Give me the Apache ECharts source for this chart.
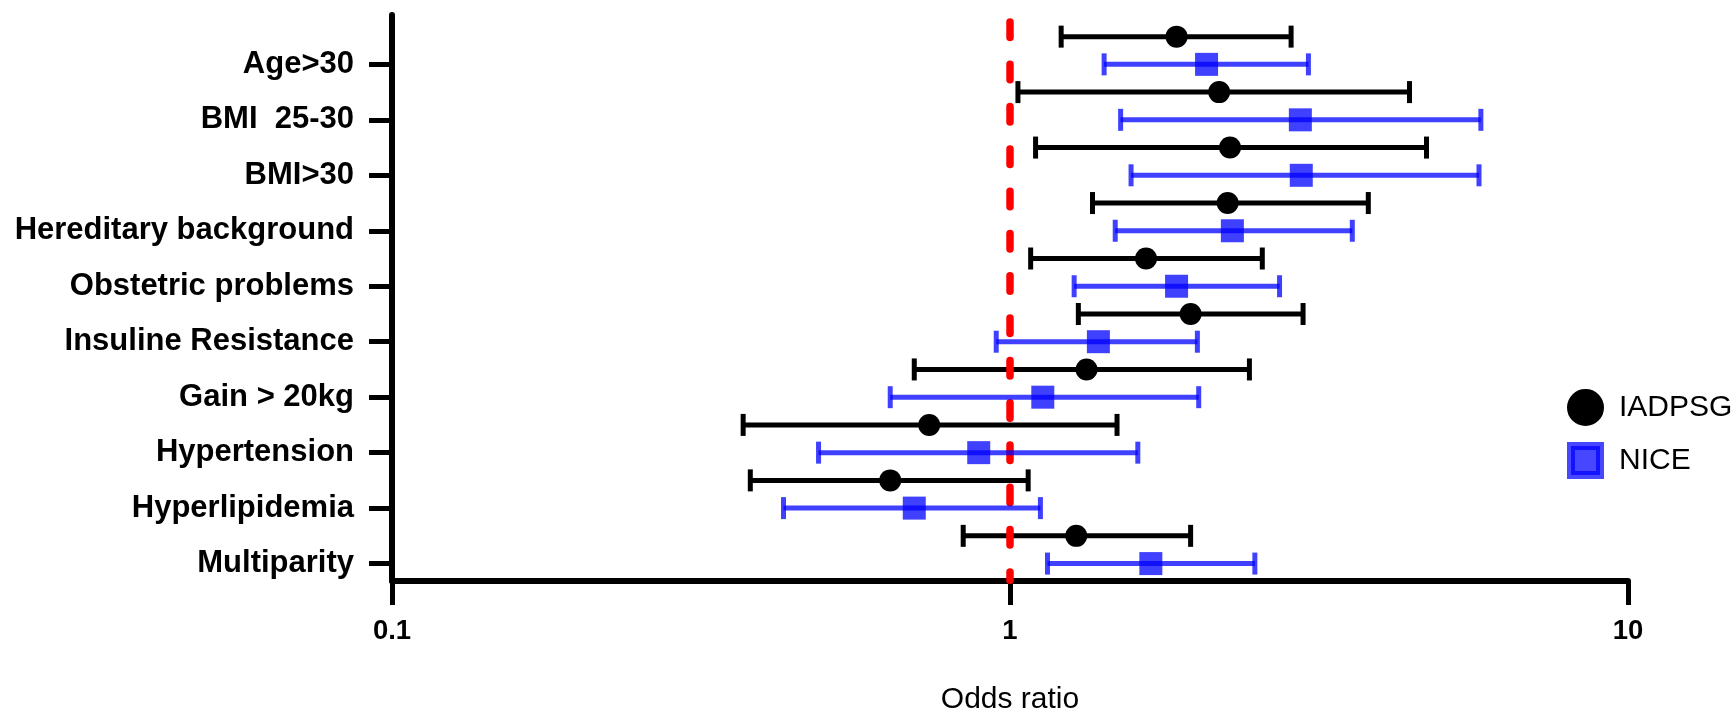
<!DOCTYPE html>
<html>
<head>
<meta charset="utf-8">
<script src="https://cdn.jsdelivr.net/npm/echarts@6/dist/echarts.min.js"></script>
<style>
  html, body { margin: 0; padding: 0; background: #fff; }
  #chart { width: 1734px; height: 714px; }
</style>
</head>
<body>
<div id="chart"></div>
<script>
// Categories, top to bottom
const categories = ['Age>30', 'BMI  25-30', 'BMI>30', 'Hereditary background', 'Obstetric problems',
  'Insuline Resistance', 'Gain > 20kg', 'Hypertension', 'Hyperlipidemia', 'Multiparity'];

// IADPSG odds ratios with 95% CI
const iadpsgOR   = [1.86, 2.18, 2.27, 2.25, 1.66, 1.96, 1.33, 0.74, 0.64, 1.28];
const iadpsgLow  = [1.21, 1.03, 1.10, 1.36, 1.08, 1.29, 0.70, 0.37, 0.38, 0.84];
const iadpsgHigh = [2.85, 4.43, 4.72, 3.80, 2.56, 2.98, 2.44, 1.49, 1.07, 1.96];

// NICE odds ratios with 95% CI
const niceOR   = [2.08, 2.95, 2.96, 2.29, 1.86, 1.39, 1.13, 0.89, 0.70, 1.69];
const niceLow  = [1.42, 1.51, 1.57, 1.48, 1.27, 0.95, 0.64, 0.49, 0.43, 1.15];
const niceHigh = [3.04, 5.78, 5.74, 3.58, 2.73, 2.01, 2.02, 1.61, 1.12, 2.49];

const xTickLabels = ['0.1', '1', '10'];
const referenceOR = 1;

const n = categories.length;
const rowPos = categories.map((c, i) => n - i);          // Age>30 = 10 ... Multiparity = 1
const FONT = "'Liberation Sans', Arial, Helvetica, sans-serif";
const BLUE = 'rgba(0,0,255,0.75)';

const iadpsgPts  = iadpsgOR.map((v, i) => [v, rowPos[i] + 0.5]);
const iadpsgBars = iadpsgOR.map((v, i) => [iadpsgLow[i], iadpsgHigh[i], rowPos[i] + 0.5]);
const nicePts    = niceOR.map((v, i) => [v, rowPos[i]]);
const niceBars   = niceOR.map((v, i) => [niceLow[i], niceHigh[i], rowPos[i]]);

function barRenderer(color) {
  return function (params, api) {
    const y = api.value(2);
    const p1 = api.coord([api.value(0), y]);
    const p2 = api.coord([api.value(1), y]);
    const h = 11;
    const st = { stroke: color, lineWidth: 5 };
    return {
      type: 'group',
      children: [
        { type: 'line', shape: { x1: p1[0], y1: p1[1], x2: p2[0], y2: p2[1] }, style: st },
        { type: 'line', shape: { x1: p1[0], y1: p1[1] - h, x2: p1[0], y2: p1[1] + h }, style: st },
        { type: 'line', shape: { x1: p2[0], y1: p2[1] - h, x2: p2[0], y2: p2[1] + h }, style: st }
      ]
    };
  };
}

const chart = echarts.init(document.getElementById('chart'), null, { renderer: 'canvas' });

const option = {
  animation: false,
  backgroundColor: '#ffffff',
  grid: { left: 392, right: 106, top: 15, bottom: 133, containLabel: false, outerBoundsMode: 'none' },
  legend: {
    orient: 'vertical',
    left: 1567,
    top: 389,
    padding: 0,
    itemWidth: 29,
    itemHeight: 29,
    itemGap: 16,
    textStyle: { fontFamily: FONT, fontSize: 30, color: '#000', padding: [0, 0, 0, 14], lineHeight: 29 },
    data: [
      { name: 'IADPSG', icon: 'circle', itemStyle: { color: '#000', borderColor: '#000', borderWidth: 8 } },
      { name: 'NICE', icon: 'rect', itemStyle: { color: 'rgba(0,0,255,0.72)', borderColor: 'rgba(0,0,255,0.72)', borderWidth: 8 } }
    ]
  },
  xAxis: {
    type: 'log',
    logBase: 10,
    min: 0.1,
    max: 10,
    name: 'Odds ratio',
    nameLocation: 'middle',
    nameGap: 104,
    nameTextStyle: { fontFamily: FONT, fontSize: 30, color: '#000' },
    axisLine: { show: true, lineStyle: { color: '#000', width: 6 } },
    axisTick: { show: true, length: 24, lineStyle: { color: '#000', width: 5 } },
    axisLabel: {
      margin: 36,
      fontFamily: FONT, fontSize: 27.5, fontWeight: 'bold', color: '#000',
      formatter: function (v) {
        const idx = Math.round(Math.log10(v)) + 1;
        return xTickLabels[idx] !== undefined ? xTickLabels[idx] : String(v);
      }
    },
    splitLine: { show: false },
    minorTick: { show: false }
  },
  yAxis: {
    type: 'value',
    min: 0.686,
    max: 10.89,
    axisLine: { show: true, lineStyle: { color: '#000', width: 6 } },
    axisTick: { show: true, length: 23, customValues: rowPos, lineStyle: { color: '#000', width: 5 } },
    axisLabel: {
      margin: 38,
      customValues: rowPos,
      fontFamily: FONT, fontSize: 31, fontWeight: 'bold', color: '#000',
      formatter: function (v) { return categories[n - Math.round(v)]; }
    },
    splitLine: { show: false }
  },
  series: [
    {
      name: 'IADPSG CI', type: 'custom', renderItem: barRenderer('#000'),
      data: iadpsgBars, encode: { x: [0, 1], y: 2 }, z: 2, silent: true
    },
    {
      name: 'IADPSG', type: 'scatter', symbol: 'circle', symbolSize: 22,
      itemStyle: { color: '#000', opacity: 1 }, data: iadpsgPts, z: 3
    },
    {
      name: 'ref', type: 'line', data: [[referenceOR, 10.764], [referenceOR, 0.699]],
      symbol: 'none', silent: true, z: 4,
      lineStyle: { color: '#ff0000', width: 7.5, type: [15.5, 26.8], cap: 'round' }
    },
    {
      name: 'NICE CI', type: 'custom', renderItem: barRenderer(BLUE),
      data: niceBars, encode: { x: [0, 1], y: 2 }, z: 5, silent: true
    },
    {
      name: 'NICE', type: 'scatter', symbol: 'rect', symbolSize: 23,
      itemStyle: { color: BLUE, opacity: 1 }, data: nicePts, z: 6
    }
  ]
};
chart.setOption(option);
</script>
</body>
</html>
